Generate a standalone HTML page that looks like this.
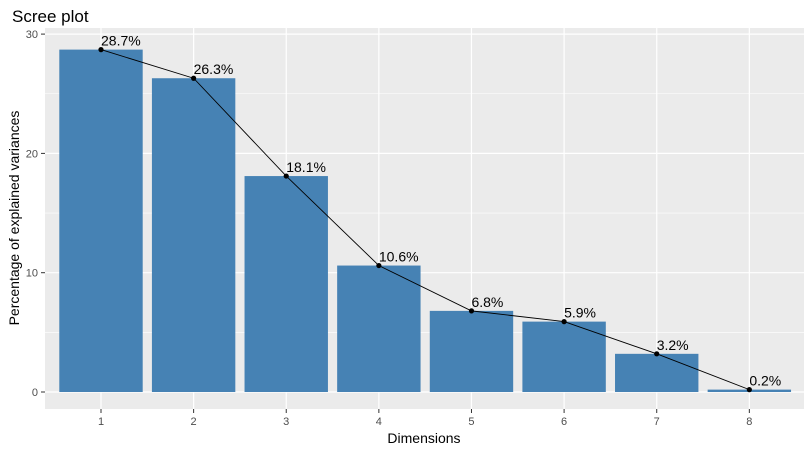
<!DOCTYPE html>
<html><head><meta charset="utf-8"><style>
body{margin:0;background:#fff;}
svg{display:block;font-family:"Liberation Sans",Arial,sans-serif;}
</style></head><body>
<svg id="chart" width="812" height="454">
<text x="12" y="22" font-size="17" fill="#000">Scree plot</text>
<rect x="45" y="28" width="759" height="381" fill="#ebebeb"/>
<g id="grid"></g><g id="bars"></g><g id="line"></g><g id="axes"></g>
<text x="424" y="443" font-size="14" text-anchor="middle" fill="#000">Dimensions</text>
<text transform="translate(19,218) rotate(-90)" font-size="14" text-anchor="middle" fill="#000">Percentage of explained variances</text>
</svg>
<script>
const categories=["1","2","3","4","5","6","7","8"];
const values=[28.7,26.3,18.1,10.6,6.8,5.9,3.2,0.2];
const labels=["28.7%","26.3%","18.1%","10.6%","6.8%","5.9%","3.2%","0.2%"];
const yTicks=[0,10,20,30];
const NS="http://www.w3.org/2000/svg";
function X(i){return 101+i*92.62;}
function Y(v){return 392-v*11.93;}
function mk(t,a,p){const e=document.createElementNS(NS,t);for(const k in a)e.setAttribute(k,a[k]);p.appendChild(e);return e;}
const g=document.getElementById('grid'),b=document.getElementById('bars'),l=document.getElementById('line'),ax=document.getElementById('axes');
for(let v=5;v<=30;v+=10){const e=mk('line',{x1:45,x2:804,y1:Y(v),y2:Y(v),stroke:'#fff','stroke-width':0.6},g);

}
yTicks.forEach(v=>{const e=mk('line',{x1:45,x2:804,y1:Y(v),y2:Y(v),stroke:'#fff','stroke-width':1.2},g);


mk('line',{x1:41,x2:45,y1:Y(v),y2:Y(v),stroke:'#333'},ax);
const t=mk('text',{x:38,y:Y(v)+4,'font-size':11,'text-anchor':'end',fill:'#4d4d4d'},ax);t.textContent=v;

});
categories.forEach((c,i)=>{const e=mk('line',{x1:X(i),x2:X(i),y1:28,y2:409,stroke:'#fff','stroke-width':1.2},g);


mk('line',{x1:X(i),x2:X(i),y1:409,y2:413,stroke:'#333'},ax);
const t=mk('text',{x:X(i),y:425,'font-size':11,'text-anchor':'middle',fill:'#4d4d4d'},ax);t.textContent=c;


const r=mk('rect',{x:X(i)-41.7,y:Y(values[i]),width:83.4,height:Y(0)-Y(values[i]),fill:'#4682b4'},b);

});
const pts=values.map((v,i)=>X(i)+','+Y(v)).join(' ');
const pl=mk('polyline',{points:pts,fill:'none',stroke:'#000','stroke-width':0.9},l);


values.forEach((v,i)=>{const c=mk('circle',{cx:X(i),cy:Y(v),r:2.6,fill:'#000'},l);


const t=mk('text',{x:X(i),y:Y(v)-4,'font-size':14,fill:'#000'},l);t.textContent=labels[i];

});
</script>
</body></html>
